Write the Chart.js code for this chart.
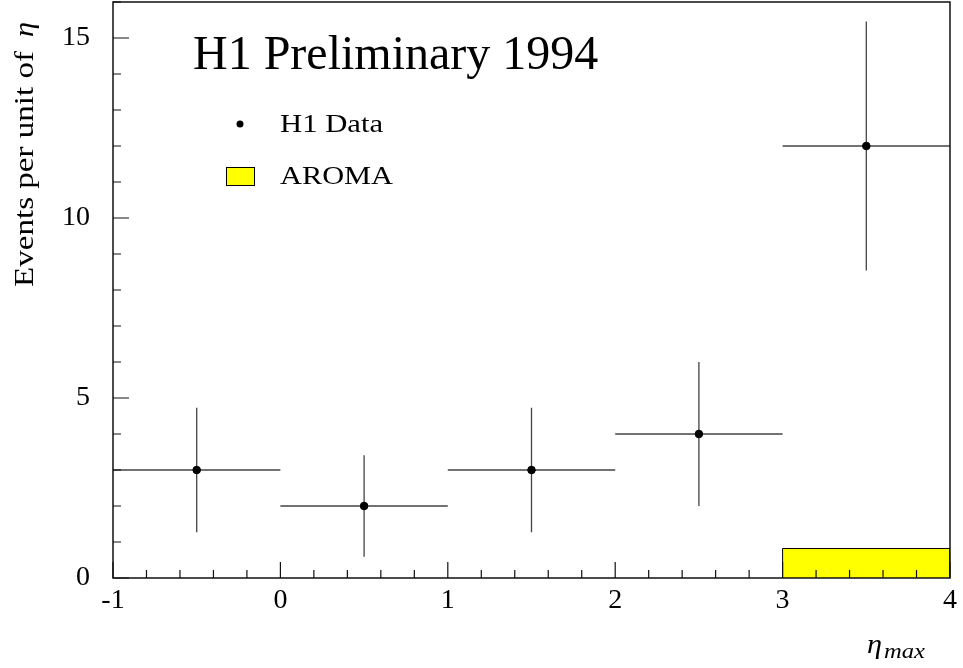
<!DOCTYPE html>
<html>
<head>
<meta charset="utf-8">
<title>H1 Preliminary 1994 - eta max</title>
<script src="https://cdn.jsdelivr.net/npm/chart.js@4/dist/chart.umd.min.js"></script>
<style>
  html, body { margin: 0; padding: 0; background: #fff; }
  #wrap { width: 963px; height: 668px; position: relative; }
</style>
</head>
<body>
<div id="wrap"><canvas id="eta-chart" width="963" height="668"></canvas></div>
<script>
"use strict";

// eta_max bins and the H1 measurement per bin
const BIN_LO = [-1, 0, 1, 2, 3];
const BIN_HI = [0, 1, 2, 3, 4];
const ETA_CENTRES = [-0.5, 0.5, 1.5, 2.5, 3.5];
const H1_EVENTS = [3, 2, 3, 4, 12];
const H1_ERRORS = [1.73, 1.41, 1.73, 2.0, 3.46];

// AROMA prediction (only non-zero in the last bin)
const AROMA_LO = 3;
const AROMA_HI = 4;
const AROMA_VALUE = 0.82;

// axis ranges and tick marks
const X_RANGE = [-1, 4];
const Y_RANGE = [0, 16];
const X_MAJOR = [-1, 0, 1, 2, 3, 4];
const X_MINOR = [-0.8, -0.6, -0.4, -0.2, 0.2, 0.4, 0.6, 0.8, 1.2, 1.4, 1.6, 1.8,
                 2.2, 2.4, 2.6, 2.8, 3.2, 3.4, 3.6, 3.8];
const Y_MAJOR = [0, 5, 10, 15];
const Y_MINOR = [1, 2, 3, 4, 6, 7, 8, 9, 11, 12, 13, 14, 16];

const SERIF = "'Liberation Serif', 'Times New Roman', serif";
const COLORS = {
  frame: "#111",
  errors: "#444",
  point: "#000",
  aroma: "#ffff00",
  text: "#000",
};

const points = ETA_CENTRES.map((x, i) => ({ x, y: H1_EVENTS[i] }));
const aromaOutline = [
  { x: AROMA_LO, y: 0 },
  { x: AROMA_LO, y: AROMA_VALUE },
  { x: AROMA_HI, y: AROMA_VALUE },
  { x: AROMA_HI, y: 0 },
];

// text squeezed/stretched horizontally to a given width
function fitText(ctx, text, x, y, font, width) {
  ctx.save();
  ctx.font = font;
  const w = ctx.measureText(text).width;
  ctx.translate(x, y);
  ctx.scale(width / w, 1);
  ctx.fillText(text, 0, 0);
  ctx.restore();
}

// horizontal bin widths + vertical error bars, under the markers
const errorBars = {
  id: "errorBars",
  beforeDatasetsDraw(chart) {
    const { ctx, scales: { x, y } } = chart;
    ctx.save();
    ctx.strokeStyle = COLORS.errors;
    ctx.lineWidth = 1.3;
    ETA_CENTRES.forEach((c, i) => {
      const py = y.getPixelForValue(H1_EVENTS[i]);
      const px = x.getPixelForValue(c);
      ctx.beginPath();
      ctx.moveTo(x.getPixelForValue(BIN_LO[i]), py);
      ctx.lineTo(x.getPixelForValue(BIN_HI[i]), py);
      ctx.moveTo(px, y.getPixelForValue(H1_EVENTS[i] + H1_ERRORS[i]));
      ctx.lineTo(px, y.getPixelForValue(H1_EVENTS[i] - H1_ERRORS[i]));
      ctx.stroke();
    });
    ctx.restore();
  },
};

// frame, inward ticks, titles and the in-plot legend
const decorations = {
  id: "decorations",
  afterDraw(chart) {
    const { ctx, chartArea: a, scales: { x, y } } = chart;
    ctx.save();
    ctx.strokeStyle = COLORS.frame;
    ctx.lineWidth = 1.5;
    ctx.strokeRect(a.left, a.top, a.right - a.left, a.bottom - a.top);

    ctx.lineWidth = 1.2;
    ctx.beginPath();
    X_MAJOR.forEach(v => { const p = x.getPixelForValue(v); ctx.moveTo(p, a.bottom); ctx.lineTo(p, a.bottom - 16); });
    X_MINOR.forEach(v => { const p = x.getPixelForValue(v); ctx.moveTo(p, a.bottom); ctx.lineTo(p, a.bottom - 8); });
    Y_MAJOR.forEach(v => { const p = y.getPixelForValue(v); ctx.moveTo(a.left, p); ctx.lineTo(a.left + 16, p); });
    Y_MINOR.forEach(v => { const p = y.getPixelForValue(v); ctx.moveTo(a.left, p); ctx.lineTo(a.left + 8, p); });
    ctx.stroke();

    ctx.fillStyle = COLORS.text;
    ctx.textBaseline = "alphabetic";
    ctx.textAlign = "left";
    ctx.font = `48px ${SERIF}`;
    ctx.fillText("H1 Preliminary 1994", 193, 69);

    // legend
    ctx.beginPath();
    ctx.arc(240, 124, 3.5, 0, Math.PI * 2);
    ctx.fill();
    fitText(ctx, "H1 Data", 280, 132, `26px ${SERIF}`, 103);
    ctx.fillStyle = COLORS.aroma;
    ctx.fillRect(226.5, 167.5, 28, 18);
    ctx.strokeStyle = "#000";
    ctx.lineWidth = 1;
    ctx.strokeRect(226.5, 167.5, 28, 18);
    ctx.fillStyle = COLORS.text;
    fitText(ctx, "AROMA", 280, 184, `26px ${SERIF}`, 113);

    // y title, rotated
    ctx.save();
    ctx.translate(33, 287);
    ctx.rotate(-Math.PI / 2);
    fitText(ctx, "Events per unit of", 0, 0, `27px ${SERIF}`, 236);
    fitText(ctx, "\u03b7", 250, 0, `italic 28px ${SERIF}`, 15);
    ctx.restore();

    // x title eta_max
    fitText(ctx, "\u03b7", 867, 653, `italic 28px ${SERIF}`, 15);
    fitText(ctx, "max", 884, 658, `italic 22px ${SERIF}`, 41);
    ctx.restore();
  },
};

function onlyValues(list) {
  return v => (list.some(t => Math.abs(t - v) < 1e-6) ? String(Math.round(v)) : "");
}

new Chart(document.getElementById("eta-chart"), {
  type: "scatter",
  data: {
    datasets: [
      {
        type: "line",
        label: "AROMA",
        data: aromaOutline,
        borderColor: "#000",
        borderWidth: 1,
        backgroundColor: COLORS.aroma,
        fill: "origin",
        pointRadius: 0,
        tension: 0,
        order: 2,
      },
      {
        label: "H1 Data",
        data: points,
        backgroundColor: COLORS.point,
        borderColor: COLORS.point,
        pointRadius: 3.8,
        order: 1,
      },
    ],
  },
  options: {
    responsive: false,
    animation: false,
    layout: { autoPadding: false, padding: { top: 2, right: 13, left: 0, bottom: 0 } },
    plugins: { legend: { display: false }, tooltip: { enabled: false } },
    scales: {
      x: {
        type: "linear",
        min: X_RANGE[0],
        max: X_RANGE[1],
        grid: { display: false, drawTicks: false },
        border: { display: false },
        ticks: {
          stepSize: 1,
          padding: 6,
          color: COLORS.text,
          font: { family: SERIF, size: 28 },
          callback: onlyValues(X_MAJOR),
          maxRotation: 0,
        },
        afterFit: s => { s.height = 90; s.paddingLeft = 0; s.paddingRight = 0; },
      },
      y: {
        type: "linear",
        min: Y_RANGE[0],
        max: Y_RANGE[1],
        grid: { display: false, drawTicks: false },
        border: { display: false },
        ticks: {
          stepSize: 5,
          includeBounds: false,
          padding: 23,
          color: COLORS.text,
          font: { family: SERIF, size: 28 },
          callback: onlyValues(Y_MAJOR),
        },
        afterFit: s => { s.width = 113; s.paddingTop = 0; s.paddingBottom = 0; },
      },
    },
  },
  plugins: [errorBars, decorations],
});
</script>
</body>
</html>
